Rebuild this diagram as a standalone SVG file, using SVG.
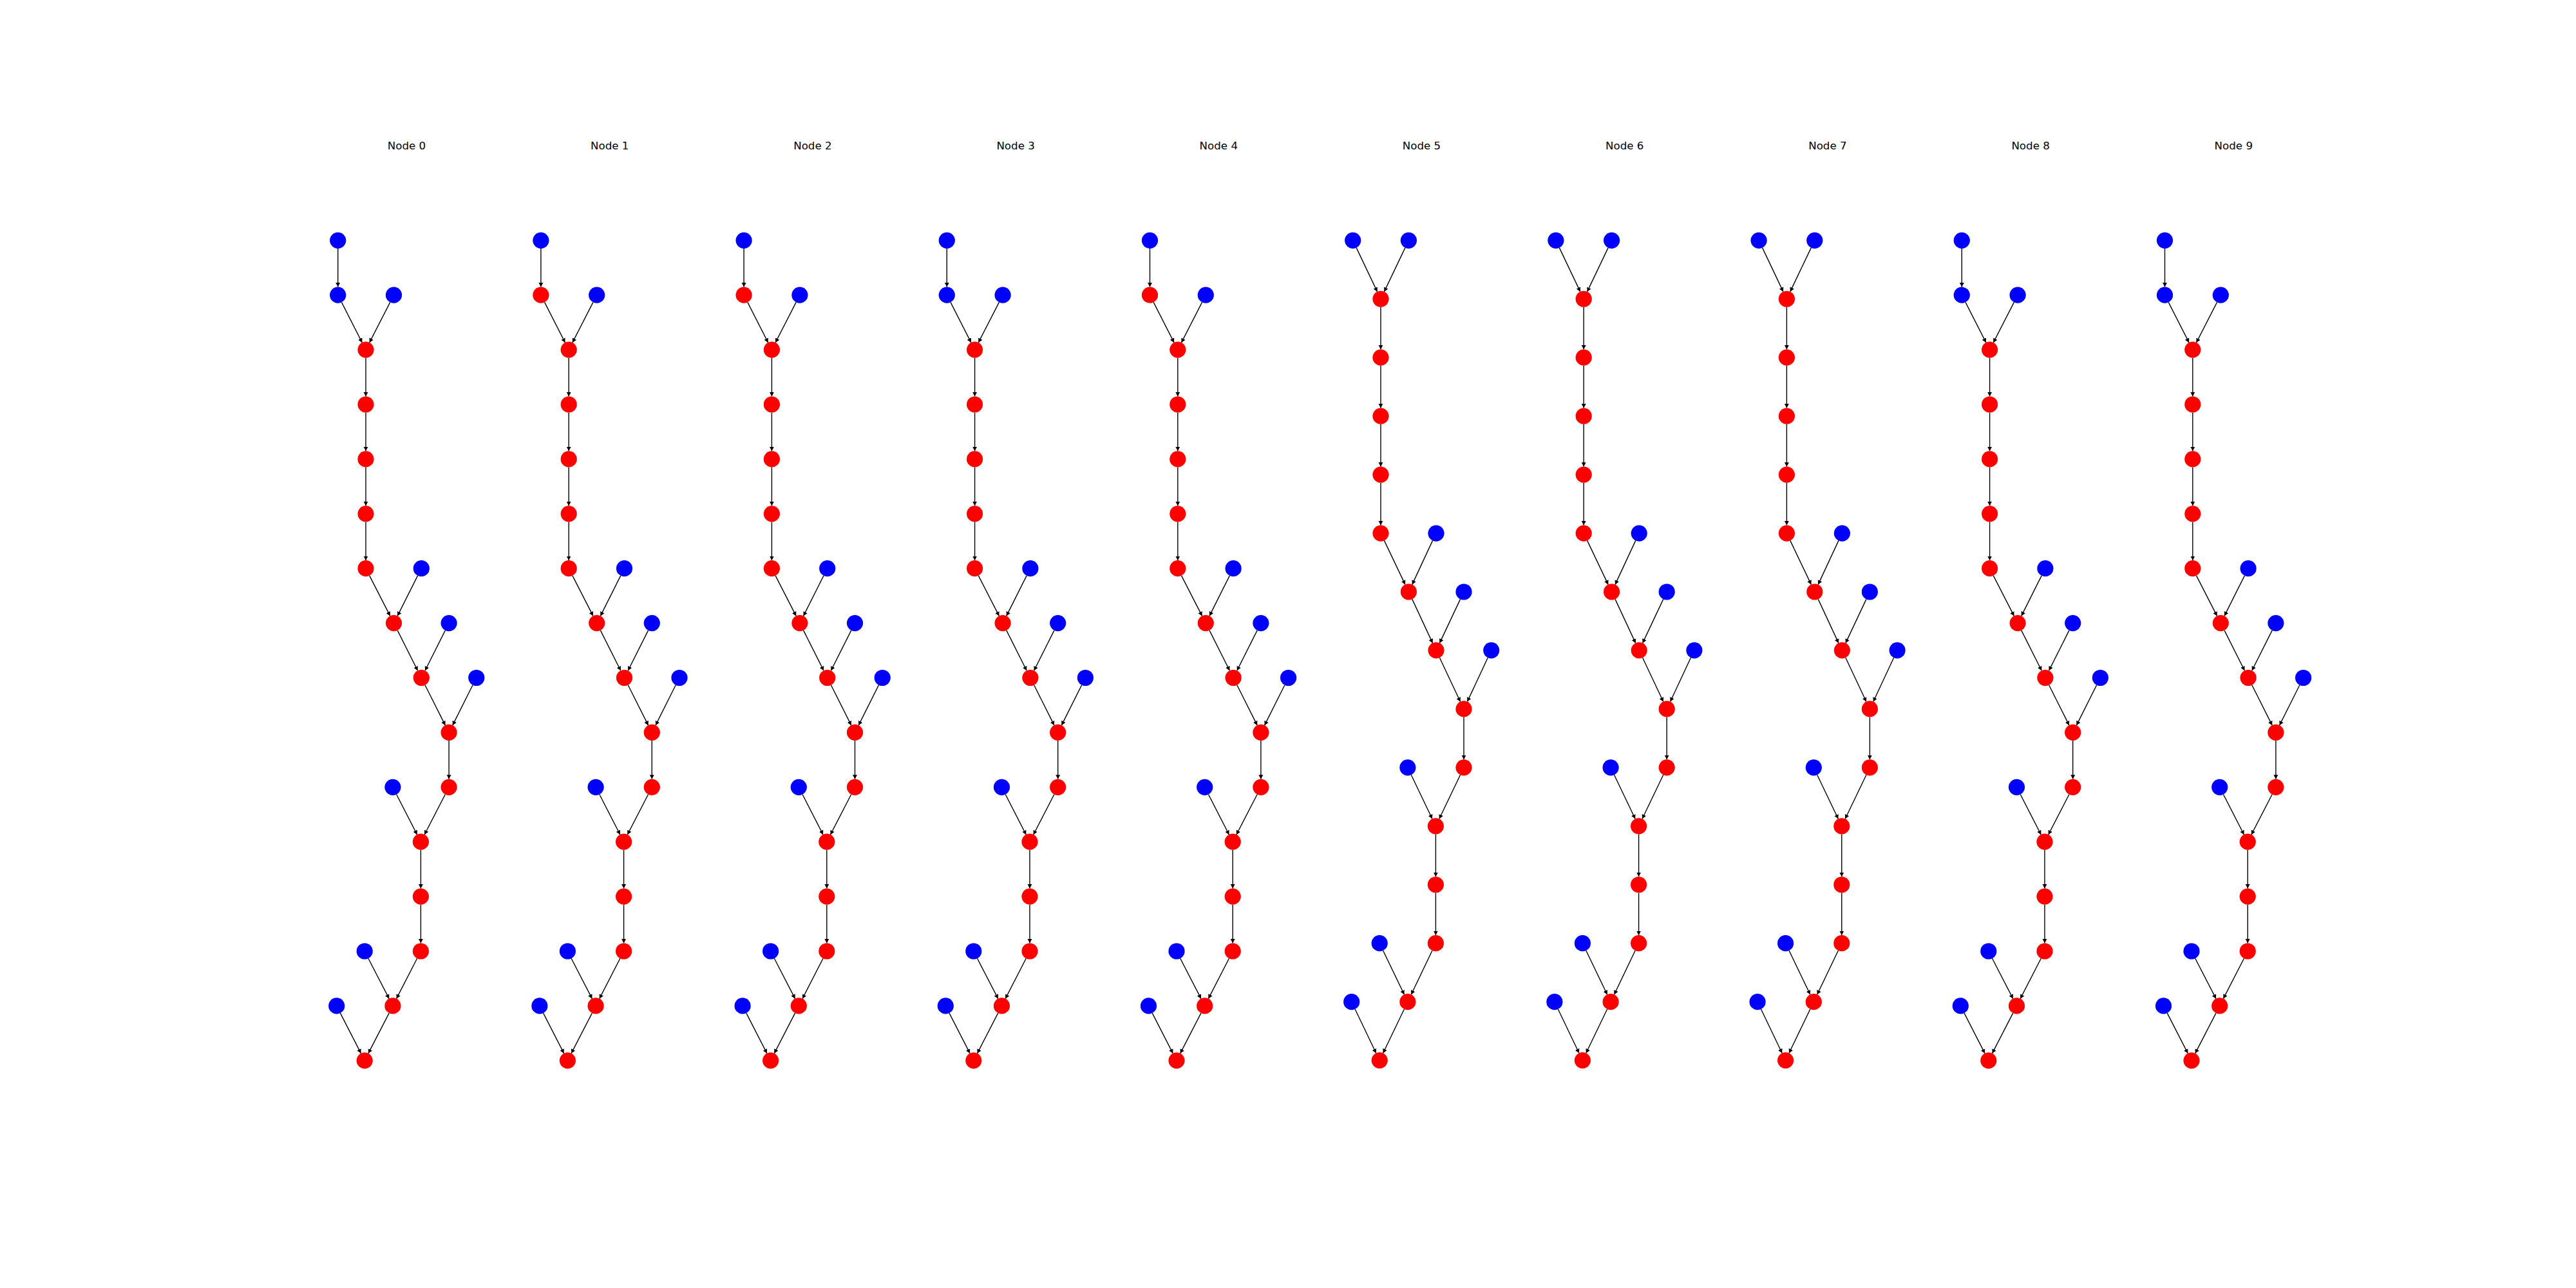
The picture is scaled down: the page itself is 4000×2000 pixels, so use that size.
<svg xmlns="http://www.w3.org/2000/svg" width="4000" height="2000" viewBox="0 0 4000 2000">
<style>
.t{font-family:"DejaVu Sans","Liberation Sans",sans-serif;font-size:16.67px;fill:#000;text-anchor:middle}
.b{fill:#0000ff}
.r{fill:#ff0000}
.e line{stroke:#000;stroke-width:1.4;marker-end:url(#ah)}
</style>
<defs>
<marker id="ah" markerUnits="userSpaceOnUse" markerWidth="10" markerHeight="10" viewBox="0 -5 10 10" refX="6.5" refY="0" orient="auto"><path d="M0,-3.5 L6.5,0 L0,3.5 z" fill="#000"/></marker>
</defs>
<rect width="4000" height="2000" fill="#fff"/>
<g id="connectors">
<g class="e" transform="translate(568,0)">
<line x1="-43.3" y1="385.9" x2="-43.3" y2="445.6"/><line x1="-37.57" y1="469.42" x2="-5.73" y2="531.88"/><line x1="37.77" y1="469.42" x2="5.73" y2="531.88"/><line x1="0" y1="555.7" x2="0" y2="615.4"/><line x1="0" y1="640.6" x2="0" y2="700.3"/><line x1="0" y1="725.5" x2="0" y2="785.2"/><line x1="0" y1="810.4" x2="0" y2="870.1"/><line x1="5.73" y1="893.92" x2="37.77" y2="956.38"/><line x1="80.57" y1="893.92" x2="49.23" y2="956.38"/><line x1="49.23" y1="978.82" x2="80.57" y2="1041.28"/><line x1="123.37" y1="978.82" x2="92.03" y2="1041.28"/><line x1="92.03" y1="1063.72" x2="123.37" y2="1126.18"/><line x1="166.07" y1="1063.72" x2="134.83" y2="1126.18"/><line x1="129.1" y1="1150" x2="129.1" y2="1209.7"/><line x1="47.63" y1="1233.52" x2="79.67" y2="1295.98"/><line x1="123.37" y1="1233.52" x2="91.13" y2="1295.98"/><line x1="85.4" y1="1319.8" x2="85.4" y2="1379.5"/><line x1="85.4" y1="1404.7" x2="85.4" y2="1464.4"/><line x1="3.93" y1="1488.22" x2="36.17" y2="1550.68"/><line x1="79.67" y1="1488.22" x2="47.63" y2="1550.68"/><line x1="-39.57" y1="1573.12" x2="-7.53" y2="1635.58"/><line x1="36.17" y1="1573.12" x2="3.93" y2="1635.58"/>
</g>
<g class="e" transform="translate(883.2,0)">
<line x1="-43.3" y1="385.9" x2="-43.3" y2="445.6"/><line x1="-37.57" y1="469.42" x2="-5.73" y2="531.88"/><line x1="37.77" y1="469.42" x2="5.73" y2="531.88"/><line x1="0" y1="555.7" x2="0" y2="615.4"/><line x1="0" y1="640.6" x2="0" y2="700.3"/><line x1="0" y1="725.5" x2="0" y2="785.2"/><line x1="0" y1="810.4" x2="0" y2="870.1"/><line x1="5.73" y1="893.92" x2="37.77" y2="956.38"/><line x1="80.57" y1="893.92" x2="49.23" y2="956.38"/><line x1="49.23" y1="978.82" x2="80.57" y2="1041.28"/><line x1="123.37" y1="978.82" x2="92.03" y2="1041.28"/><line x1="92.03" y1="1063.72" x2="123.37" y2="1126.18"/><line x1="166.07" y1="1063.72" x2="134.83" y2="1126.18"/><line x1="129.1" y1="1150" x2="129.1" y2="1209.7"/><line x1="47.63" y1="1233.52" x2="79.67" y2="1295.98"/><line x1="123.37" y1="1233.52" x2="91.13" y2="1295.98"/><line x1="85.4" y1="1319.8" x2="85.4" y2="1379.5"/><line x1="85.4" y1="1404.7" x2="85.4" y2="1464.4"/><line x1="3.93" y1="1488.22" x2="36.17" y2="1550.68"/><line x1="79.67" y1="1488.22" x2="47.63" y2="1550.68"/><line x1="-39.57" y1="1573.12" x2="-7.53" y2="1635.58"/><line x1="36.17" y1="1573.12" x2="3.93" y2="1635.58"/>
</g>
<g class="e" transform="translate(1198.4,0)">
<line x1="-43.3" y1="385.9" x2="-43.3" y2="445.6"/><line x1="-37.57" y1="469.42" x2="-5.73" y2="531.88"/><line x1="37.77" y1="469.42" x2="5.73" y2="531.88"/><line x1="0" y1="555.7" x2="0" y2="615.4"/><line x1="0" y1="640.6" x2="0" y2="700.3"/><line x1="0" y1="725.5" x2="0" y2="785.2"/><line x1="0" y1="810.4" x2="0" y2="870.1"/><line x1="5.73" y1="893.92" x2="37.77" y2="956.38"/><line x1="80.57" y1="893.92" x2="49.23" y2="956.38"/><line x1="49.23" y1="978.82" x2="80.57" y2="1041.28"/><line x1="123.37" y1="978.82" x2="92.03" y2="1041.28"/><line x1="92.03" y1="1063.72" x2="123.37" y2="1126.18"/><line x1="166.07" y1="1063.72" x2="134.83" y2="1126.18"/><line x1="129.1" y1="1150" x2="129.1" y2="1209.7"/><line x1="47.63" y1="1233.52" x2="79.67" y2="1295.98"/><line x1="123.37" y1="1233.52" x2="91.13" y2="1295.98"/><line x1="85.4" y1="1319.8" x2="85.4" y2="1379.5"/><line x1="85.4" y1="1404.7" x2="85.4" y2="1464.4"/><line x1="3.93" y1="1488.22" x2="36.17" y2="1550.68"/><line x1="79.67" y1="1488.22" x2="47.63" y2="1550.68"/><line x1="-39.57" y1="1573.12" x2="-7.53" y2="1635.58"/><line x1="36.17" y1="1573.12" x2="3.93" y2="1635.58"/>
</g>
<g class="e" transform="translate(1513.6,0)">
<line x1="-43.3" y1="385.9" x2="-43.3" y2="445.6"/><line x1="-37.57" y1="469.42" x2="-5.73" y2="531.88"/><line x1="37.77" y1="469.42" x2="5.73" y2="531.88"/><line x1="0" y1="555.7" x2="0" y2="615.4"/><line x1="0" y1="640.6" x2="0" y2="700.3"/><line x1="0" y1="725.5" x2="0" y2="785.2"/><line x1="0" y1="810.4" x2="0" y2="870.1"/><line x1="5.73" y1="893.92" x2="37.77" y2="956.38"/><line x1="80.57" y1="893.92" x2="49.23" y2="956.38"/><line x1="49.23" y1="978.82" x2="80.57" y2="1041.28"/><line x1="123.37" y1="978.82" x2="92.03" y2="1041.28"/><line x1="92.03" y1="1063.72" x2="123.37" y2="1126.18"/><line x1="166.07" y1="1063.72" x2="134.83" y2="1126.18"/><line x1="129.1" y1="1150" x2="129.1" y2="1209.7"/><line x1="47.63" y1="1233.52" x2="79.67" y2="1295.98"/><line x1="123.37" y1="1233.52" x2="91.13" y2="1295.98"/><line x1="85.4" y1="1319.8" x2="85.4" y2="1379.5"/><line x1="85.4" y1="1404.7" x2="85.4" y2="1464.4"/><line x1="3.93" y1="1488.22" x2="36.17" y2="1550.68"/><line x1="79.67" y1="1488.22" x2="47.63" y2="1550.68"/><line x1="-39.57" y1="1573.12" x2="-7.53" y2="1635.58"/><line x1="36.17" y1="1573.12" x2="3.93" y2="1635.58"/>
</g>
<g class="e" transform="translate(1828.8,0)">
<line x1="-43.3" y1="385.9" x2="-43.3" y2="445.6"/><line x1="-37.57" y1="469.42" x2="-5.73" y2="531.88"/><line x1="37.77" y1="469.42" x2="5.73" y2="531.88"/><line x1="0" y1="555.7" x2="0" y2="615.4"/><line x1="0" y1="640.6" x2="0" y2="700.3"/><line x1="0" y1="725.5" x2="0" y2="785.2"/><line x1="0" y1="810.4" x2="0" y2="870.1"/><line x1="5.73" y1="893.92" x2="37.77" y2="956.38"/><line x1="80.57" y1="893.92" x2="49.23" y2="956.38"/><line x1="49.23" y1="978.82" x2="80.57" y2="1041.28"/><line x1="123.37" y1="978.82" x2="92.03" y2="1041.28"/><line x1="92.03" y1="1063.72" x2="123.37" y2="1126.18"/><line x1="166.07" y1="1063.72" x2="134.83" y2="1126.18"/><line x1="129.1" y1="1150" x2="129.1" y2="1209.7"/><line x1="47.63" y1="1233.52" x2="79.67" y2="1295.98"/><line x1="123.37" y1="1233.52" x2="91.13" y2="1295.98"/><line x1="85.4" y1="1319.8" x2="85.4" y2="1379.5"/><line x1="85.4" y1="1404.7" x2="85.4" y2="1464.4"/><line x1="3.93" y1="1488.22" x2="36.17" y2="1550.68"/><line x1="79.67" y1="1488.22" x2="47.63" y2="1550.68"/><line x1="-39.57" y1="1573.12" x2="-7.53" y2="1635.58"/><line x1="36.17" y1="1573.12" x2="3.93" y2="1635.58"/>
</g>
<g class="e" transform="translate(2144,0)">
<line x1="-37.87" y1="384.67" x2="-5.43" y2="452.88"/><line x1="37.97" y1="384.67" x2="5.43" y2="452.88"/><line x1="0" y1="476.85" x2="0" y2="542.6"/><line x1="0" y1="567.8" x2="0" y2="633.55"/><line x1="0" y1="658.75" x2="0" y2="724.5"/><line x1="0" y1="749.7" x2="0" y2="815.45"/><line x1="5.43" y1="839.42" x2="37.97" y2="907.63"/><line x1="80.57" y1="839.42" x2="48.83" y2="907.63"/><line x1="48.83" y1="930.37" x2="80.57" y2="998.58"/><line x1="123.57" y1="930.37" x2="91.43" y2="998.58"/><line x1="91.43" y1="1021.32" x2="123.57" y2="1089.53"/><line x1="166.27" y1="1021.32" x2="134.43" y2="1089.53"/><line x1="129" y1="1113.5" x2="129" y2="1179.25"/><line x1="47.33" y1="1203.22" x2="79.97" y2="1271.43"/><line x1="123.57" y1="1203.22" x2="90.83" y2="1271.43"/><line x1="85.4" y1="1295.4" x2="85.4" y2="1361.15"/><line x1="85.4" y1="1386.35" x2="85.4" y2="1452.1"/><line x1="3.63" y1="1476.07" x2="36.47" y2="1544.28"/><line x1="79.97" y1="1476.07" x2="47.33" y2="1544.28"/><line x1="-39.87" y1="1567.02" x2="-7.23" y2="1635.23"/><line x1="36.47" y1="1567.02" x2="3.63" y2="1635.23"/>
</g>
<g class="e" transform="translate(2459.2,0)">
<line x1="-37.87" y1="384.67" x2="-5.43" y2="452.88"/><line x1="37.97" y1="384.67" x2="5.43" y2="452.88"/><line x1="0" y1="476.85" x2="0" y2="542.6"/><line x1="0" y1="567.8" x2="0" y2="633.55"/><line x1="0" y1="658.75" x2="0" y2="724.5"/><line x1="0" y1="749.7" x2="0" y2="815.45"/><line x1="5.43" y1="839.42" x2="37.97" y2="907.63"/><line x1="80.57" y1="839.42" x2="48.83" y2="907.63"/><line x1="48.83" y1="930.37" x2="80.57" y2="998.58"/><line x1="123.57" y1="930.37" x2="91.43" y2="998.58"/><line x1="91.43" y1="1021.32" x2="123.57" y2="1089.53"/><line x1="166.27" y1="1021.32" x2="134.43" y2="1089.53"/><line x1="129" y1="1113.5" x2="129" y2="1179.25"/><line x1="47.33" y1="1203.22" x2="79.97" y2="1271.43"/><line x1="123.57" y1="1203.22" x2="90.83" y2="1271.43"/><line x1="85.4" y1="1295.4" x2="85.4" y2="1361.15"/><line x1="85.4" y1="1386.35" x2="85.4" y2="1452.1"/><line x1="3.63" y1="1476.07" x2="36.47" y2="1544.28"/><line x1="79.97" y1="1476.07" x2="47.33" y2="1544.28"/><line x1="-39.87" y1="1567.02" x2="-7.23" y2="1635.23"/><line x1="36.47" y1="1567.02" x2="3.63" y2="1635.23"/>
</g>
<g class="e" transform="translate(2774.4,0)">
<line x1="-37.87" y1="384.67" x2="-5.43" y2="452.88"/><line x1="37.97" y1="384.67" x2="5.43" y2="452.88"/><line x1="0" y1="476.85" x2="0" y2="542.6"/><line x1="0" y1="567.8" x2="0" y2="633.55"/><line x1="0" y1="658.75" x2="0" y2="724.5"/><line x1="0" y1="749.7" x2="0" y2="815.45"/><line x1="5.43" y1="839.42" x2="37.97" y2="907.63"/><line x1="80.57" y1="839.42" x2="48.83" y2="907.63"/><line x1="48.83" y1="930.37" x2="80.57" y2="998.58"/><line x1="123.57" y1="930.37" x2="91.43" y2="998.58"/><line x1="91.43" y1="1021.32" x2="123.57" y2="1089.53"/><line x1="166.27" y1="1021.32" x2="134.43" y2="1089.53"/><line x1="129" y1="1113.5" x2="129" y2="1179.25"/><line x1="47.33" y1="1203.22" x2="79.97" y2="1271.43"/><line x1="123.57" y1="1203.22" x2="90.83" y2="1271.43"/><line x1="85.4" y1="1295.4" x2="85.4" y2="1361.15"/><line x1="85.4" y1="1386.35" x2="85.4" y2="1452.1"/><line x1="3.63" y1="1476.07" x2="36.47" y2="1544.28"/><line x1="79.97" y1="1476.07" x2="47.33" y2="1544.28"/><line x1="-39.87" y1="1567.02" x2="-7.23" y2="1635.23"/><line x1="36.47" y1="1567.02" x2="3.63" y2="1635.23"/>
</g>
<g class="e" transform="translate(3089.6,0)">
<line x1="-43.3" y1="385.9" x2="-43.3" y2="445.6"/><line x1="-37.57" y1="469.42" x2="-5.73" y2="531.88"/><line x1="37.77" y1="469.42" x2="5.73" y2="531.88"/><line x1="0" y1="555.7" x2="0" y2="615.4"/><line x1="0" y1="640.6" x2="0" y2="700.3"/><line x1="0" y1="725.5" x2="0" y2="785.2"/><line x1="0" y1="810.4" x2="0" y2="870.1"/><line x1="5.73" y1="893.92" x2="37.77" y2="956.38"/><line x1="80.57" y1="893.92" x2="49.23" y2="956.38"/><line x1="49.23" y1="978.82" x2="80.57" y2="1041.28"/><line x1="123.37" y1="978.82" x2="92.03" y2="1041.28"/><line x1="92.03" y1="1063.72" x2="123.37" y2="1126.18"/><line x1="166.07" y1="1063.72" x2="134.83" y2="1126.18"/><line x1="129.1" y1="1150" x2="129.1" y2="1209.7"/><line x1="47.63" y1="1233.52" x2="79.67" y2="1295.98"/><line x1="123.37" y1="1233.52" x2="91.13" y2="1295.98"/><line x1="85.4" y1="1319.8" x2="85.4" y2="1379.5"/><line x1="85.4" y1="1404.7" x2="85.4" y2="1464.4"/><line x1="3.93" y1="1488.22" x2="36.17" y2="1550.68"/><line x1="79.67" y1="1488.22" x2="47.63" y2="1550.68"/><line x1="-39.57" y1="1573.12" x2="-7.53" y2="1635.58"/><line x1="36.17" y1="1573.12" x2="3.93" y2="1635.58"/>
</g>
<g class="e" transform="translate(3404.8,0)">
<line x1="-43.3" y1="385.9" x2="-43.3" y2="445.6"/><line x1="-37.57" y1="469.42" x2="-5.73" y2="531.88"/><line x1="37.77" y1="469.42" x2="5.73" y2="531.88"/><line x1="0" y1="555.7" x2="0" y2="615.4"/><line x1="0" y1="640.6" x2="0" y2="700.3"/><line x1="0" y1="725.5" x2="0" y2="785.2"/><line x1="0" y1="810.4" x2="0" y2="870.1"/><line x1="5.73" y1="893.92" x2="37.77" y2="956.38"/><line x1="80.57" y1="893.92" x2="49.23" y2="956.38"/><line x1="49.23" y1="978.82" x2="80.57" y2="1041.28"/><line x1="123.37" y1="978.82" x2="92.03" y2="1041.28"/><line x1="92.03" y1="1063.72" x2="123.37" y2="1126.18"/><line x1="166.07" y1="1063.72" x2="134.83" y2="1126.18"/><line x1="129.1" y1="1150" x2="129.1" y2="1209.7"/><line x1="47.63" y1="1233.52" x2="79.67" y2="1295.98"/><line x1="123.37" y1="1233.52" x2="91.13" y2="1295.98"/><line x1="85.4" y1="1319.8" x2="85.4" y2="1379.5"/><line x1="85.4" y1="1404.7" x2="85.4" y2="1464.4"/><line x1="3.93" y1="1488.22" x2="36.17" y2="1550.68"/><line x1="79.67" y1="1488.22" x2="47.63" y2="1550.68"/><line x1="-39.57" y1="1573.12" x2="-7.53" y2="1635.58"/><line x1="36.17" y1="1573.12" x2="3.93" y2="1635.58"/>
</g>
</g>

<g id="panel0" transform="translate(568,0)">
<text class="t" x="63.5" y="232">Node 0</text>
<g id="p0-n0"><circle class="b" cx="-43.3" cy="373.3" r="12.6"/></g>
<g id="p0-n1"><circle class="b" cx="-43.3" cy="458.2" r="12.6"/></g>
<g id="p0-n2"><circle class="b" cx="43.5" cy="458.2" r="12.6"/></g>
<g id="p0-n3"><circle class="r" cx="0" cy="543.1" r="12.6"/></g>
<g id="p0-n4"><circle class="r" cx="0" cy="628" r="12.6"/></g>
<g id="p0-n5"><circle class="r" cx="0" cy="712.9" r="12.6"/></g>
<g id="p0-n6"><circle class="r" cx="0" cy="797.8" r="12.6"/></g>
<g id="p0-n7"><circle class="r" cx="0" cy="882.7" r="12.6"/></g>
<g id="p0-n8"><circle class="b" cx="86.3" cy="882.7" r="12.6"/></g>
<g id="p0-n9"><circle class="r" cx="43.5" cy="967.6" r="12.6"/></g>
<g id="p0-n10"><circle class="b" cx="129.1" cy="967.6" r="12.6"/></g>
<g id="p0-n11"><circle class="r" cx="86.3" cy="1052.5" r="12.6"/></g>
<g id="p0-n12"><circle class="b" cx="171.8" cy="1052.5" r="12.6"/></g>
<g id="p0-n13"><circle class="r" cx="129.1" cy="1137.4" r="12.6"/></g>
<g id="p0-n14"><circle class="b" cx="41.9" cy="1222.3" r="12.6"/></g>
<g id="p0-n15"><circle class="r" cx="129.1" cy="1222.3" r="12.6"/></g>
<g id="p0-n16"><circle class="r" cx="85.4" cy="1307.2" r="12.6"/></g>
<g id="p0-n17"><circle class="r" cx="85.4" cy="1392.1" r="12.6"/></g>
<g id="p0-n18"><circle class="b" cx="-1.8" cy="1477" r="12.6"/></g>
<g id="p0-n19"><circle class="r" cx="85.4" cy="1477" r="12.6"/></g>
<g id="p0-n20"><circle class="b" cx="-45.3" cy="1561.9" r="12.6"/></g>
<g id="p0-n21"><circle class="r" cx="41.9" cy="1561.9" r="12.6"/></g>
<g id="p0-n22"><circle class="r" cx="-1.8" cy="1646.8" r="12.6"/></g>
</g>

<g id="panel1" transform="translate(883.2,0)">
<text class="t" x="63.5" y="232">Node 1</text>
<g id="p1-n0"><circle class="b" cx="-43.3" cy="373.3" r="12.6"/></g>
<g id="p1-n1"><circle class="r" cx="-43.3" cy="458.2" r="12.6"/></g>
<g id="p1-n2"><circle class="b" cx="43.5" cy="458.2" r="12.6"/></g>
<g id="p1-n3"><circle class="r" cx="0" cy="543.1" r="12.6"/></g>
<g id="p1-n4"><circle class="r" cx="0" cy="628" r="12.6"/></g>
<g id="p1-n5"><circle class="r" cx="0" cy="712.9" r="12.6"/></g>
<g id="p1-n6"><circle class="r" cx="0" cy="797.8" r="12.6"/></g>
<g id="p1-n7"><circle class="r" cx="0" cy="882.7" r="12.6"/></g>
<g id="p1-n8"><circle class="b" cx="86.3" cy="882.7" r="12.6"/></g>
<g id="p1-n9"><circle class="r" cx="43.5" cy="967.6" r="12.6"/></g>
<g id="p1-n10"><circle class="b" cx="129.1" cy="967.6" r="12.6"/></g>
<g id="p1-n11"><circle class="r" cx="86.3" cy="1052.5" r="12.6"/></g>
<g id="p1-n12"><circle class="b" cx="171.8" cy="1052.5" r="12.6"/></g>
<g id="p1-n13"><circle class="r" cx="129.1" cy="1137.4" r="12.6"/></g>
<g id="p1-n14"><circle class="b" cx="41.9" cy="1222.3" r="12.6"/></g>
<g id="p1-n15"><circle class="r" cx="129.1" cy="1222.3" r="12.6"/></g>
<g id="p1-n16"><circle class="r" cx="85.4" cy="1307.2" r="12.6"/></g>
<g id="p1-n17"><circle class="r" cx="85.4" cy="1392.1" r="12.6"/></g>
<g id="p1-n18"><circle class="b" cx="-1.8" cy="1477" r="12.6"/></g>
<g id="p1-n19"><circle class="r" cx="85.4" cy="1477" r="12.6"/></g>
<g id="p1-n20"><circle class="b" cx="-45.3" cy="1561.9" r="12.6"/></g>
<g id="p1-n21"><circle class="r" cx="41.9" cy="1561.9" r="12.6"/></g>
<g id="p1-n22"><circle class="r" cx="-1.8" cy="1646.8" r="12.6"/></g>
</g>

<g id="panel2" transform="translate(1198.4,0)">
<text class="t" x="63.5" y="232">Node 2</text>
<g id="p2-n0"><circle class="b" cx="-43.3" cy="373.3" r="12.6"/></g>
<g id="p2-n1"><circle class="r" cx="-43.3" cy="458.2" r="12.6"/></g>
<g id="p2-n2"><circle class="b" cx="43.5" cy="458.2" r="12.6"/></g>
<g id="p2-n3"><circle class="r" cx="0" cy="543.1" r="12.6"/></g>
<g id="p2-n4"><circle class="r" cx="0" cy="628" r="12.6"/></g>
<g id="p2-n5"><circle class="r" cx="0" cy="712.9" r="12.6"/></g>
<g id="p2-n6"><circle class="r" cx="0" cy="797.8" r="12.6"/></g>
<g id="p2-n7"><circle class="r" cx="0" cy="882.7" r="12.6"/></g>
<g id="p2-n8"><circle class="b" cx="86.3" cy="882.7" r="12.6"/></g>
<g id="p2-n9"><circle class="r" cx="43.5" cy="967.6" r="12.6"/></g>
<g id="p2-n10"><circle class="b" cx="129.1" cy="967.6" r="12.6"/></g>
<g id="p2-n11"><circle class="r" cx="86.3" cy="1052.5" r="12.6"/></g>
<g id="p2-n12"><circle class="b" cx="171.8" cy="1052.5" r="12.6"/></g>
<g id="p2-n13"><circle class="r" cx="129.1" cy="1137.4" r="12.6"/></g>
<g id="p2-n14"><circle class="b" cx="41.9" cy="1222.3" r="12.6"/></g>
<g id="p2-n15"><circle class="r" cx="129.1" cy="1222.3" r="12.6"/></g>
<g id="p2-n16"><circle class="r" cx="85.4" cy="1307.2" r="12.6"/></g>
<g id="p2-n17"><circle class="r" cx="85.4" cy="1392.1" r="12.6"/></g>
<g id="p2-n18"><circle class="b" cx="-1.8" cy="1477" r="12.6"/></g>
<g id="p2-n19"><circle class="r" cx="85.4" cy="1477" r="12.6"/></g>
<g id="p2-n20"><circle class="b" cx="-45.3" cy="1561.9" r="12.6"/></g>
<g id="p2-n21"><circle class="r" cx="41.9" cy="1561.9" r="12.6"/></g>
<g id="p2-n22"><circle class="r" cx="-1.8" cy="1646.8" r="12.6"/></g>
</g>

<g id="panel3" transform="translate(1513.6,0)">
<text class="t" x="63.5" y="232">Node 3</text>
<g id="p3-n0"><circle class="b" cx="-43.3" cy="373.3" r="12.6"/></g>
<g id="p3-n1"><circle class="b" cx="-43.3" cy="458.2" r="12.6"/></g>
<g id="p3-n2"><circle class="b" cx="43.5" cy="458.2" r="12.6"/></g>
<g id="p3-n3"><circle class="r" cx="0" cy="543.1" r="12.6"/></g>
<g id="p3-n4"><circle class="r" cx="0" cy="628" r="12.6"/></g>
<g id="p3-n5"><circle class="r" cx="0" cy="712.9" r="12.6"/></g>
<g id="p3-n6"><circle class="r" cx="0" cy="797.8" r="12.6"/></g>
<g id="p3-n7"><circle class="r" cx="0" cy="882.7" r="12.6"/></g>
<g id="p3-n8"><circle class="b" cx="86.3" cy="882.7" r="12.6"/></g>
<g id="p3-n9"><circle class="r" cx="43.5" cy="967.6" r="12.6"/></g>
<g id="p3-n10"><circle class="b" cx="129.1" cy="967.6" r="12.6"/></g>
<g id="p3-n11"><circle class="r" cx="86.3" cy="1052.5" r="12.6"/></g>
<g id="p3-n12"><circle class="b" cx="171.8" cy="1052.5" r="12.6"/></g>
<g id="p3-n13"><circle class="r" cx="129.1" cy="1137.4" r="12.6"/></g>
<g id="p3-n14"><circle class="b" cx="41.9" cy="1222.3" r="12.6"/></g>
<g id="p3-n15"><circle class="r" cx="129.1" cy="1222.3" r="12.6"/></g>
<g id="p3-n16"><circle class="r" cx="85.4" cy="1307.2" r="12.6"/></g>
<g id="p3-n17"><circle class="r" cx="85.4" cy="1392.1" r="12.6"/></g>
<g id="p3-n18"><circle class="b" cx="-1.8" cy="1477" r="12.6"/></g>
<g id="p3-n19"><circle class="r" cx="85.4" cy="1477" r="12.6"/></g>
<g id="p3-n20"><circle class="b" cx="-45.3" cy="1561.9" r="12.6"/></g>
<g id="p3-n21"><circle class="r" cx="41.9" cy="1561.9" r="12.6"/></g>
<g id="p3-n22"><circle class="r" cx="-1.8" cy="1646.8" r="12.6"/></g>
</g>

<g id="panel4" transform="translate(1828.8,0)">
<text class="t" x="63.5" y="232">Node 4</text>
<g id="p4-n0"><circle class="b" cx="-43.3" cy="373.3" r="12.6"/></g>
<g id="p4-n1"><circle class="r" cx="-43.3" cy="458.2" r="12.6"/></g>
<g id="p4-n2"><circle class="b" cx="43.5" cy="458.2" r="12.6"/></g>
<g id="p4-n3"><circle class="r" cx="0" cy="543.1" r="12.6"/></g>
<g id="p4-n4"><circle class="r" cx="0" cy="628" r="12.6"/></g>
<g id="p4-n5"><circle class="r" cx="0" cy="712.9" r="12.6"/></g>
<g id="p4-n6"><circle class="r" cx="0" cy="797.8" r="12.6"/></g>
<g id="p4-n7"><circle class="r" cx="0" cy="882.7" r="12.6"/></g>
<g id="p4-n8"><circle class="b" cx="86.3" cy="882.7" r="12.6"/></g>
<g id="p4-n9"><circle class="r" cx="43.5" cy="967.6" r="12.6"/></g>
<g id="p4-n10"><circle class="b" cx="129.1" cy="967.6" r="12.6"/></g>
<g id="p4-n11"><circle class="r" cx="86.3" cy="1052.5" r="12.6"/></g>
<g id="p4-n12"><circle class="b" cx="171.8" cy="1052.5" r="12.6"/></g>
<g id="p4-n13"><circle class="r" cx="129.1" cy="1137.4" r="12.6"/></g>
<g id="p4-n14"><circle class="b" cx="41.9" cy="1222.3" r="12.6"/></g>
<g id="p4-n15"><circle class="r" cx="129.1" cy="1222.3" r="12.6"/></g>
<g id="p4-n16"><circle class="r" cx="85.4" cy="1307.2" r="12.6"/></g>
<g id="p4-n17"><circle class="r" cx="85.4" cy="1392.1" r="12.6"/></g>
<g id="p4-n18"><circle class="b" cx="-1.8" cy="1477" r="12.6"/></g>
<g id="p4-n19"><circle class="r" cx="85.4" cy="1477" r="12.6"/></g>
<g id="p4-n20"><circle class="b" cx="-45.3" cy="1561.9" r="12.6"/></g>
<g id="p4-n21"><circle class="r" cx="41.9" cy="1561.9" r="12.6"/></g>
<g id="p4-n22"><circle class="r" cx="-1.8" cy="1646.8" r="12.6"/></g>
</g>

<g id="panel5" transform="translate(2144,0)">
<text class="t" x="63.5" y="232">Node 5</text>
<g id="p5-n0"><circle class="b" cx="-43.3" cy="373.3" r="12.6"/></g>
<g id="p5-n1"><circle class="b" cx="43.4" cy="373.3" r="12.6"/></g>
<g id="p5-n2"><circle class="r" cx="0" cy="464.25" r="12.6"/></g>
<g id="p5-n3"><circle class="r" cx="0" cy="555.2" r="12.6"/></g>
<g id="p5-n4"><circle class="r" cx="0" cy="646.15" r="12.6"/></g>
<g id="p5-n5"><circle class="r" cx="0" cy="737.1" r="12.6"/></g>
<g id="p5-n6"><circle class="r" cx="0" cy="828.05" r="12.6"/></g>
<g id="p5-n7"><circle class="b" cx="86" cy="828.05" r="12.6"/></g>
<g id="p5-n8"><circle class="r" cx="43.4" cy="919" r="12.6"/></g>
<g id="p5-n9"><circle class="b" cx="129" cy="919" r="12.6"/></g>
<g id="p5-n10"><circle class="r" cx="86" cy="1009.95" r="12.6"/></g>
<g id="p5-n11"><circle class="b" cx="171.7" cy="1009.95" r="12.6"/></g>
<g id="p5-n12"><circle class="r" cx="129" cy="1100.9" r="12.6"/></g>
<g id="p5-n13"><circle class="b" cx="41.9" cy="1191.85" r="12.6"/></g>
<g id="p5-n14"><circle class="r" cx="129" cy="1191.85" r="12.6"/></g>
<g id="p5-n15"><circle class="r" cx="85.4" cy="1282.8" r="12.6"/></g>
<g id="p5-n16"><circle class="r" cx="85.4" cy="1373.75" r="12.6"/></g>
<g id="p5-n17"><circle class="b" cx="-1.8" cy="1464.7" r="12.6"/></g>
<g id="p5-n18"><circle class="r" cx="85.4" cy="1464.7" r="12.6"/></g>
<g id="p5-n19"><circle class="b" cx="-45.3" cy="1555.65" r="12.6"/></g>
<g id="p5-n20"><circle class="r" cx="41.9" cy="1555.65" r="12.6"/></g>
<g id="p5-n21"><circle class="r" cx="-1.8" cy="1646.6" r="12.6"/></g>
</g>

<g id="panel6" transform="translate(2459.2,0)">
<text class="t" x="63.5" y="232">Node 6</text>
<g id="p6-n0"><circle class="b" cx="-43.3" cy="373.3" r="12.6"/></g>
<g id="p6-n1"><circle class="b" cx="43.4" cy="373.3" r="12.6"/></g>
<g id="p6-n2"><circle class="r" cx="0" cy="464.25" r="12.6"/></g>
<g id="p6-n3"><circle class="r" cx="0" cy="555.2" r="12.6"/></g>
<g id="p6-n4"><circle class="r" cx="0" cy="646.15" r="12.6"/></g>
<g id="p6-n5"><circle class="r" cx="0" cy="737.1" r="12.6"/></g>
<g id="p6-n6"><circle class="r" cx="0" cy="828.05" r="12.6"/></g>
<g id="p6-n7"><circle class="b" cx="86" cy="828.05" r="12.6"/></g>
<g id="p6-n8"><circle class="r" cx="43.4" cy="919" r="12.6"/></g>
<g id="p6-n9"><circle class="b" cx="129" cy="919" r="12.6"/></g>
<g id="p6-n10"><circle class="r" cx="86" cy="1009.95" r="12.6"/></g>
<g id="p6-n11"><circle class="b" cx="171.7" cy="1009.95" r="12.6"/></g>
<g id="p6-n12"><circle class="r" cx="129" cy="1100.9" r="12.6"/></g>
<g id="p6-n13"><circle class="b" cx="41.9" cy="1191.85" r="12.6"/></g>
<g id="p6-n14"><circle class="r" cx="129" cy="1191.85" r="12.6"/></g>
<g id="p6-n15"><circle class="r" cx="85.4" cy="1282.8" r="12.6"/></g>
<g id="p6-n16"><circle class="r" cx="85.4" cy="1373.75" r="12.6"/></g>
<g id="p6-n17"><circle class="b" cx="-1.8" cy="1464.7" r="12.6"/></g>
<g id="p6-n18"><circle class="r" cx="85.4" cy="1464.7" r="12.6"/></g>
<g id="p6-n19"><circle class="b" cx="-45.3" cy="1555.65" r="12.6"/></g>
<g id="p6-n20"><circle class="r" cx="41.9" cy="1555.65" r="12.6"/></g>
<g id="p6-n21"><circle class="r" cx="-1.8" cy="1646.6" r="12.6"/></g>
</g>

<g id="panel7" transform="translate(2774.4,0)">
<text class="t" x="63.5" y="232">Node 7</text>
<g id="p7-n0"><circle class="b" cx="-43.3" cy="373.3" r="12.6"/></g>
<g id="p7-n1"><circle class="b" cx="43.4" cy="373.3" r="12.6"/></g>
<g id="p7-n2"><circle class="r" cx="0" cy="464.25" r="12.6"/></g>
<g id="p7-n3"><circle class="r" cx="0" cy="555.2" r="12.6"/></g>
<g id="p7-n4"><circle class="r" cx="0" cy="646.15" r="12.6"/></g>
<g id="p7-n5"><circle class="r" cx="0" cy="737.1" r="12.6"/></g>
<g id="p7-n6"><circle class="r" cx="0" cy="828.05" r="12.6"/></g>
<g id="p7-n7"><circle class="b" cx="86" cy="828.05" r="12.6"/></g>
<g id="p7-n8"><circle class="r" cx="43.4" cy="919" r="12.6"/></g>
<g id="p7-n9"><circle class="b" cx="129" cy="919" r="12.6"/></g>
<g id="p7-n10"><circle class="r" cx="86" cy="1009.95" r="12.6"/></g>
<g id="p7-n11"><circle class="b" cx="171.7" cy="1009.95" r="12.6"/></g>
<g id="p7-n12"><circle class="r" cx="129" cy="1100.9" r="12.6"/></g>
<g id="p7-n13"><circle class="b" cx="41.9" cy="1191.85" r="12.6"/></g>
<g id="p7-n14"><circle class="r" cx="129" cy="1191.85" r="12.6"/></g>
<g id="p7-n15"><circle class="r" cx="85.4" cy="1282.8" r="12.6"/></g>
<g id="p7-n16"><circle class="r" cx="85.4" cy="1373.75" r="12.6"/></g>
<g id="p7-n17"><circle class="b" cx="-1.8" cy="1464.7" r="12.6"/></g>
<g id="p7-n18"><circle class="r" cx="85.4" cy="1464.7" r="12.6"/></g>
<g id="p7-n19"><circle class="b" cx="-45.3" cy="1555.65" r="12.6"/></g>
<g id="p7-n20"><circle class="r" cx="41.9" cy="1555.65" r="12.6"/></g>
<g id="p7-n21"><circle class="r" cx="-1.8" cy="1646.6" r="12.6"/></g>
</g>

<g id="panel8" transform="translate(3089.6,0)">
<text class="t" x="63.5" y="232">Node 8</text>
<g id="p8-n0"><circle class="b" cx="-43.3" cy="373.3" r="12.6"/></g>
<g id="p8-n1"><circle class="b" cx="-43.3" cy="458.2" r="12.6"/></g>
<g id="p8-n2"><circle class="b" cx="43.5" cy="458.2" r="12.6"/></g>
<g id="p8-n3"><circle class="r" cx="0" cy="543.1" r="12.6"/></g>
<g id="p8-n4"><circle class="r" cx="0" cy="628" r="12.6"/></g>
<g id="p8-n5"><circle class="r" cx="0" cy="712.9" r="12.6"/></g>
<g id="p8-n6"><circle class="r" cx="0" cy="797.8" r="12.6"/></g>
<g id="p8-n7"><circle class="r" cx="0" cy="882.7" r="12.6"/></g>
<g id="p8-n8"><circle class="b" cx="86.3" cy="882.7" r="12.6"/></g>
<g id="p8-n9"><circle class="r" cx="43.5" cy="967.6" r="12.6"/></g>
<g id="p8-n10"><circle class="b" cx="129.1" cy="967.6" r="12.6"/></g>
<g id="p8-n11"><circle class="r" cx="86.3" cy="1052.5" r="12.6"/></g>
<g id="p8-n12"><circle class="b" cx="171.8" cy="1052.5" r="12.6"/></g>
<g id="p8-n13"><circle class="r" cx="129.1" cy="1137.4" r="12.6"/></g>
<g id="p8-n14"><circle class="b" cx="41.9" cy="1222.3" r="12.6"/></g>
<g id="p8-n15"><circle class="r" cx="129.1" cy="1222.3" r="12.6"/></g>
<g id="p8-n16"><circle class="r" cx="85.4" cy="1307.2" r="12.6"/></g>
<g id="p8-n17"><circle class="r" cx="85.4" cy="1392.1" r="12.6"/></g>
<g id="p8-n18"><circle class="b" cx="-1.8" cy="1477" r="12.6"/></g>
<g id="p8-n19"><circle class="r" cx="85.4" cy="1477" r="12.6"/></g>
<g id="p8-n20"><circle class="b" cx="-45.3" cy="1561.9" r="12.6"/></g>
<g id="p8-n21"><circle class="r" cx="41.9" cy="1561.9" r="12.6"/></g>
<g id="p8-n22"><circle class="r" cx="-1.8" cy="1646.8" r="12.6"/></g>
</g>

<g id="panel9" transform="translate(3404.8,0)">
<text class="t" x="63.5" y="232">Node 9</text>
<g id="p9-n0"><circle class="b" cx="-43.3" cy="373.3" r="12.6"/></g>
<g id="p9-n1"><circle class="b" cx="-43.3" cy="458.2" r="12.6"/></g>
<g id="p9-n2"><circle class="b" cx="43.5" cy="458.2" r="12.6"/></g>
<g id="p9-n3"><circle class="r" cx="0" cy="543.1" r="12.6"/></g>
<g id="p9-n4"><circle class="r" cx="0" cy="628" r="12.6"/></g>
<g id="p9-n5"><circle class="r" cx="0" cy="712.9" r="12.6"/></g>
<g id="p9-n6"><circle class="r" cx="0" cy="797.8" r="12.6"/></g>
<g id="p9-n7"><circle class="r" cx="0" cy="882.7" r="12.6"/></g>
<g id="p9-n8"><circle class="b" cx="86.3" cy="882.7" r="12.6"/></g>
<g id="p9-n9"><circle class="r" cx="43.5" cy="967.6" r="12.6"/></g>
<g id="p9-n10"><circle class="b" cx="129.1" cy="967.6" r="12.6"/></g>
<g id="p9-n11"><circle class="r" cx="86.3" cy="1052.5" r="12.6"/></g>
<g id="p9-n12"><circle class="b" cx="171.8" cy="1052.5" r="12.6"/></g>
<g id="p9-n13"><circle class="r" cx="129.1" cy="1137.4" r="12.6"/></g>
<g id="p9-n14"><circle class="b" cx="41.9" cy="1222.3" r="12.6"/></g>
<g id="p9-n15"><circle class="r" cx="129.1" cy="1222.3" r="12.6"/></g>
<g id="p9-n16"><circle class="r" cx="85.4" cy="1307.2" r="12.6"/></g>
<g id="p9-n17"><circle class="r" cx="85.4" cy="1392.1" r="12.6"/></g>
<g id="p9-n18"><circle class="b" cx="-1.8" cy="1477" r="12.6"/></g>
<g id="p9-n19"><circle class="r" cx="85.4" cy="1477" r="12.6"/></g>
<g id="p9-n20"><circle class="b" cx="-45.3" cy="1561.9" r="12.6"/></g>
<g id="p9-n21"><circle class="r" cx="41.9" cy="1561.9" r="12.6"/></g>
<g id="p9-n22"><circle class="r" cx="-1.8" cy="1646.8" r="12.6"/></g>
</g>
</svg>
